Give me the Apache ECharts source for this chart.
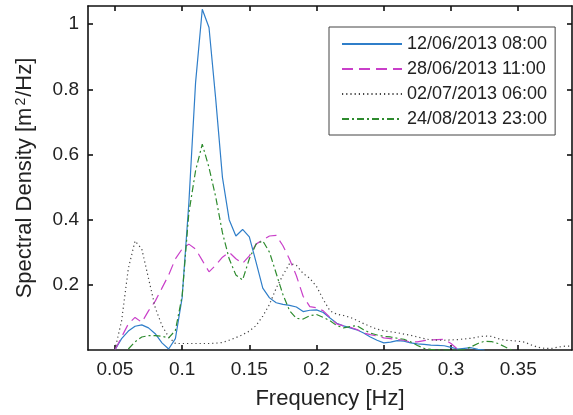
<!DOCTYPE html>
<html>
<head>
<meta charset="utf-8">
<script src="https://cdn.jsdelivr.net/npm/echarts@6/dist/echarts.min.js"></script>
<style>
  html, body { margin: 0; padding: 0; background: #fff; }
  #spectrumChart { width: 573px; height: 415px; }
</style>
</head>
<body>
<div id="spectrumChart"></div>
<script>
// frequency bins [Hz]
var freq = [0.05, 0.055, 0.06, 0.065, 0.07, 0.075, 0.08, 0.085, 0.09, 0.095,
  0.1, 0.105, 0.11, 0.115, 0.12, 0.125, 0.13, 0.135, 0.14, 0.145,
  0.15, 0.155, 0.16, 0.165, 0.17, 0.175, 0.18, 0.185, 0.19, 0.195,
  0.2, 0.205, 0.21, 0.215, 0.22, 0.225, 0.23, 0.235, 0.24, 0.245,
  0.25, 0.255, 0.26, 0.265, 0.27, 0.275, 0.28, 0.285, 0.29, 0.295,
  0.3, 0.305, 0.31, 0.315, 0.32, 0.325, 0.33, 0.335, 0.34, 0.345,
  0.35, 0.355, 0.36, 0.365, 0.37, 0.375, 0.38, 0.385, 0.39];

var names = ["12/06/2013 08:00", "28/06/2013 11:00", "02/07/2013 06:00", "24/08/2013 23:00"];

// spectral density [m2/Hz], same order as freq (missing = not drawn)
var jun12 = [0, 0.035, 0.058, 0.073, 0.077, 0.068, 0.05, 0.022, 0.003, 0.035,
  0.16, 0.45, 0.82, 1.046, 0.99, 0.77, 0.53, 0.40, 0.35, 0.37,
  0.347, 0.27, 0.19, 0.16, 0.145, 0.14, 0.137, 0.132, 0.118, 0.122,
  0.123, 0.115, 0.098, 0.082, 0.074, 0.068, 0.062, 0.052, 0.04, 0.03,
  0.022, 0.024, 0.029, 0.027, 0.022, 0.019, 0.017, 0.015, 0.014, 0.013,
  0.008, 0.003, 0.005, 0.007, 0.002, 0];
var jun28 = [0, 0.04, 0.08, 0.1, 0.085, 0.12, 0.15, 0.19, 0.23, 0.28,
  0.31, 0.325, 0.31, 0.275, 0.24, 0.26, 0.285, 0.30, 0.28, 0.266,
  0.289, 0.325, 0.338, 0.35, 0.352, 0.32, 0.278, 0.228, 0.165, 0.133,
  0.13, 0.12, 0.1, 0.08, 0.074, 0.07, 0.063, 0.052, 0.047, 0.043,
  0.037, 0.035, 0.032, 0.03, 0.024, 0.025, 0.029, 0.031, 0.032, 0.033,
  0.02, 0.002];
var jul02 = [0, 0.09, 0.25, 0.335, 0.31, 0.22, 0.13, 0.075, 0.04, 0.02,
  0.02, 0.02, 0.02, 0.02, 0.02, 0.021, 0.023, 0.03, 0.038, 0.047,
  0.058, 0.075, 0.104, 0.14, 0.19, 0.23, 0.266, 0.26, 0.235, 0.22,
  0.195, 0.155, 0.12, 0.11, 0.106, 0.1, 0.091, 0.081, 0.072, 0.064,
  0.059, 0.056, 0.053, 0.049, 0.045, 0.04, 0.035, 0.031, 0.03, 0.03,
  0.031, 0.032, 0.034, 0.036, 0.04, 0.043, 0.042, 0.035, 0.03, 0.029,
  0.027, 0.024, 0.015, 0.008, 0.005, 0.005, 0.009, 0.012, 0.012];
var aug24 = [null, null, 0.003, 0.025, 0.04, 0.044, 0.044, 0.042, 0.037, 0.06,
  0.165, 0.42, 0.55, 0.632, 0.56, 0.47, 0.36, 0.28, 0.23, 0.215,
  0.28, 0.325, 0.335, 0.3, 0.235, 0.17, 0.12, 0.097, 0.095, 0.105,
  0.109, 0.1, 0.09, 0.075, 0.068, 0.072, 0.075, 0.062, 0.052, 0.046,
  0.042, 0.04, 0.036, 0.033, 0.025, 0.014, 0.005, 0.002, 0.001, 0,
  0, 0, 0.001, 0.01, 0.02, 0.027, 0.026, 0.02, 0.01, 0];

var xTicks = [0.05, 0.1, 0.15, 0.2, 0.25, 0.3, 0.35];
var yTicks = [0.2, 0.4, 0.6, 0.8, 1];

var font = "'Liberation Sans', Arial, Helvetica, sans-serif";

function pairs(vals) {
  var out = [];
  for (var i = 0; i < vals.length; i++) {
    if (vals[i] !== null && vals[i] !== undefined) out.push([freq[i], vals[i]]);
  }
  return out;
}

function line(name, vals, color, type) {
  return {
    name: name,
    type: "line",
    data: pairs(vals),
    symbol: "none",
    clip: true,
    lineStyle: { color: color, width: 1.2, type: type },
    itemStyle: { color: color },
  };
}

var axisLine = { show: true, onZero: false, lineStyle: { color: "#111", width: 1.6 } };
var tickIn = { show: true, inside: true, length: 5, lineStyle: { color: "#111", width: 1.6 } };

var chart = echarts.init(document.getElementById("spectrumChart"));
var option = {
  animation: false,
  backgroundColor: "#fff",
  textStyle: { fontFamily: font },
  grid: { left: 88, right: 1, top: 6, bottom: 65, containLabel: false },
  legend: {
    data: names,
    orient: "vertical",
    left: 329,
    top: 27,
    padding: [8, 8, 7, 12],
    itemWidth: 60,
    itemHeight: 14,
    itemGap: 7,
    // line sample only, no marker
    itemStyle: { opacity: 0 },
    backgroundColor: "#fff",
    borderColor: "#444",
    borderWidth: 1,
    textStyle: { fontFamily: font, fontSize: 18, color: "#222", lineHeight: 18 },
  },
  xAxis: [
    {
      type: "value",
      min: 0.03,
      max: 0.39,
      position: "bottom",
      name: "Frequency [Hz]",
      nameLocation: "middle",
      nameGap: 38,
      nameTextStyle: { fontFamily: font, fontSize: 22, color: "#222" },
      axisLine: axisLine,
      axisTick: Object.assign({ customValues: xTicks }, tickIn),
      axisLabel: { customValues: xTicks, fontFamily: font, fontSize: 19, color: "#222", margin: 10 },
      splitLine: { show: false },
    },
    {
      type: "value",
      min: 0.03,
      max: 0.39,
      position: "top",
      axisLine: axisLine,
      axisTick: Object.assign({ customValues: xTicks }, tickIn),
      axisLabel: { show: false },
      splitLine: { show: false },
    },
  ],
  yAxis: [
    {
      type: "value",
      min: 0,
      max: 1.056,
      position: "left",
      name: "Spectral Density [m{sup|2}/Hz]",
      nameLocation: "middle",
      nameGap: 52,
      nameTextStyle: {
        fontFamily: font, fontSize: 22, color: "#222",
        rich: { sup: { fontFamily: font, fontSize: 14, color: "#222", verticalAlign: "top", padding: [0, 1, 8, 2] } },
      },
      axisLine: axisLine,
      axisTick: Object.assign({ customValues: yTicks }, tickIn),
      axisLabel: { customValues: yTicks, fontFamily: font, fontSize: 19, color: "#222", margin: 9 },
      splitLine: { show: false },
    },
    {
      type: "value",
      min: 0,
      max: 1.056,
      position: "right",
      axisLine: axisLine,
      axisTick: Object.assign({ customValues: yTicks }, tickIn),
      axisLabel: { show: false },
      splitLine: { show: false },
    },
  ],
  series: [
    line(names[0], jun12, "#2f7ec9", "solid"),
    line(names[1], jun28, "#c93fc9", [11, 6]),
    line(names[2], jul02, "#444444", [1.2, 3]),
    line(names[3], aug24, "#2e8b2e", [7, 3, 2, 3]),
  ],
};
chart.setOption(option);
</script>
</body>
</html>
